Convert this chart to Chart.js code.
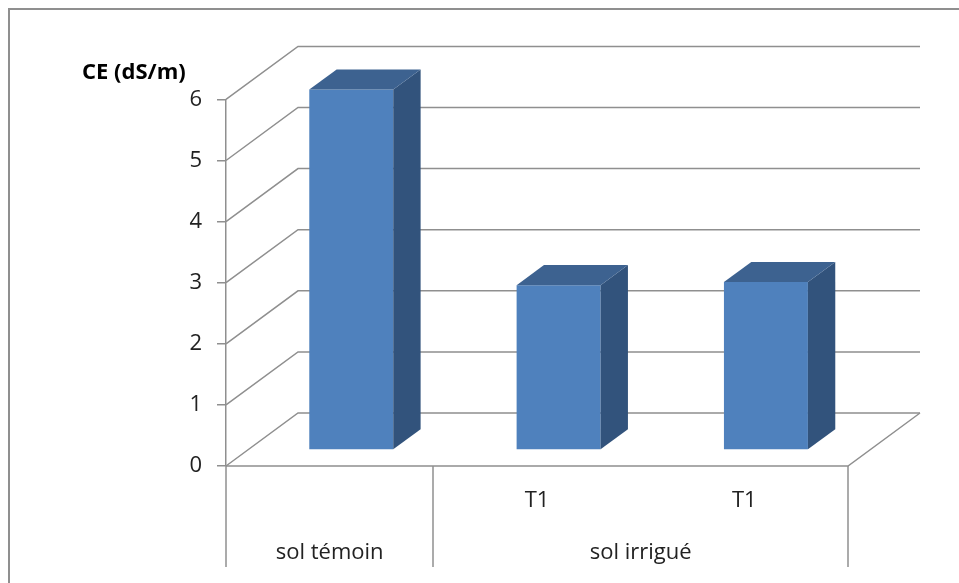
<!DOCTYPE html>
<html>
<head>
<meta charset="utf-8">
<script src="https://cdn.jsdelivr.net/npm/chart.js@4.4.1/dist/chart.umd.min.js"></script>
<style>
  html, body { margin: 0; padding: 0; background: #ffffff; }
  #wrap { width: 959px; height: 583px; position: relative; }
</style>
</head>
<body>
<div id="wrap"><canvas id="chart" width="959" height="583"></canvas></div>
<script>
// Electrical conductivity per soil sample
const treatments = ['', 'T1', 'T1'];
const soilGroups = ['sol témoin', 'sol irrigué'];
const groupCenters = [0.5, 2];        // in category units
const groupEdges = [0, 1, 3];         // separators between groups
const ceValues = [5.9, 2.7, 2.75];
const yMin = 0, yMax = 6, yStep = 1;
const axisTitle = 'CE (dS/m)';

// Oblique projection of the 3D box
const DEPTH_X = 72, DEPTH_Y = -53;     // back wall offset from front plane
const BAR_FRONT = 0.3, BAR_BACK = 0.68; // bar position within the depth
const FONT = '"Open Sans", Lato, sans-serif';
const LINE = '#8f8f8f';
const FRONT_FACE = '#4f81bd';
const SIDE_FACE = '#32537c';
const TOP_FACE = '#3d6290';

const box3d = {
  id: 'box3d',
  beforeDraw(chart) {
    const ctx = chart.ctx;
    ctx.save();
    ctx.strokeStyle = LINE;
    ctx.lineWidth = 2;
    ctx.beginPath();
    ctx.moveTo(9, 600);
    ctx.lineTo(9, 9);
    ctx.lineTo(1000, 9);
    ctx.stroke();
    ctx.restore();
  },
  beforeDatasetsDraw(chart) {
    const ctx = chart.ctx;
    const y = chart.scales.y;
    const g = chart.scales.groups;
    const a = chart.chartArea;
    ctx.save();
    ctx.strokeStyle = LINE;
    ctx.lineWidth = 1.5;
    ctx.lineCap = 'butt';
    // back wall gridlines and their side-wall diagonals
    for (let v = yMin; v <= yMax; v += yStep) {
      const py = y.getPixelForValue(v);
      ctx.beginPath();
      ctx.moveTo(a.left, py);
      ctx.lineTo(a.left + DEPTH_X, py + DEPTH_Y);
      ctx.lineTo(a.right + DEPTH_X, py + DEPTH_Y);
      ctx.stroke();
    }
    // floor: front edge and right edge
    const p0 = y.getPixelForValue(yMin);
    ctx.beginPath();
    ctx.moveTo(a.left, p0);
    ctx.lineTo(a.right, p0);
    ctx.lineTo(a.right + DEPTH_X, p0 + DEPTH_Y);
    ctx.stroke();
    // category separators below the floor
    groupEdges.forEach(e => {
      const px = Math.round(g.getPixelForValue(e));
      ctx.beginPath();
      ctx.moveTo(px, p0);
      ctx.lineTo(px, p0 + 101);
      ctx.stroke();
    });
    ctx.restore();
    // bars sit inside the box, shifted back from the front plane
    ctx.save();
    ctx.translate(DEPTH_X * BAR_FRONT, DEPTH_Y * BAR_FRONT);
  },
  afterDatasetsDraw(chart) {
    const ctx = chart.ctx;
    const dx = DEPTH_X * (BAR_BACK - BAR_FRONT);
    const dy = DEPTH_Y * (BAR_BACK - BAR_FRONT);
    chart.getDatasetMeta(0).data.forEach(bar => {
      const { x, y, base, width } = bar.getProps(['x', 'y', 'base', 'width'], true);
      const l = x - width / 2, r = x + width / 2;
      ctx.fillStyle = SIDE_FACE;
      ctx.beginPath();
      ctx.moveTo(r, y);
      ctx.lineTo(r + dx, y + dy);
      ctx.lineTo(r + dx, base + dy);
      ctx.lineTo(r, base);
      ctx.closePath();
      ctx.fill();
      ctx.fillStyle = TOP_FACE;
      ctx.beginPath();
      ctx.moveTo(l, y);
      ctx.lineTo(r, y);
      ctx.lineTo(r + dx, y + dy);
      ctx.lineTo(l + dx, y + dy);
      ctx.closePath();
      ctx.fill();
    });
    ctx.restore();
  }
};

new Chart(document.getElementById('chart'), {
  type: 'bar',
  data: {
    labels: treatments,
    datasets: [{
      data: ceValues,
      backgroundColor: FRONT_FACE,
      borderWidth: 0,
      barPercentage: 0.405,
      categoryPercentage: 1,
      clip: false
    }]
  },
  options: {
    responsive: false,
    animation: false,
    events: [],
    layout: { padding: { left: 82, right: 111, top: 0, bottom: 0 } },
    plugins: {
      legend: { display: false },
      tooltip: { enabled: false },
      title: {
        display: true,
        text: axisTitle,
        align: 'start',
        color: '#000000',
        font: { family: FONT, size: 22, weight: 'bold', lineHeight: 1.2 },
        padding: { top: 60, bottom: 13 }
      }
    },
    scales: {
      x: {
        type: 'category',
        position: 'bottom',
        grid: { display: false },
        border: { display: false },
        ticks: { color: '#222222', font: { family: FONT, size: 22 }, padding: 14, maxRotation: 0, autoSkip: false },
        afterFit(s) { s.height = 58; }
      },
      groups: {
        type: 'linear',
        position: 'bottom',
        min: 0,
        max: 3,
        offset: false,
        grid: { display: false, offset: false },
        border: { display: false },
        afterBuildTicks(s) { s.ticks = groupCenters.map(v => ({ value: v })); },
        ticks: {
          color: '#222222',
          font: { family: FONT, size: 22 },
          padding: 8,
          maxRotation: 0,
          autoSkip: false,
          callback: (v, i) => soilGroups[i]
        },
        afterFit(s) { s.height = 59; }
      },
      y: {
        min: yMin,
        max: yMax,
        ticks: { stepSize: yStep, color: '#222222', font: { family: FONT, size: 22 }, padding: 15 },
        grid: { drawOnChartArea: false, drawTicks: true, tickLength: 9, color: LINE, lineWidth: 1.5 },
        border: { display: true, color: LINE, width: 1.5 },
        afterFit(s) { s.width = 144; }
      }
    }
  },
  plugins: [box3d]
});
</script>
</body>
</html>
